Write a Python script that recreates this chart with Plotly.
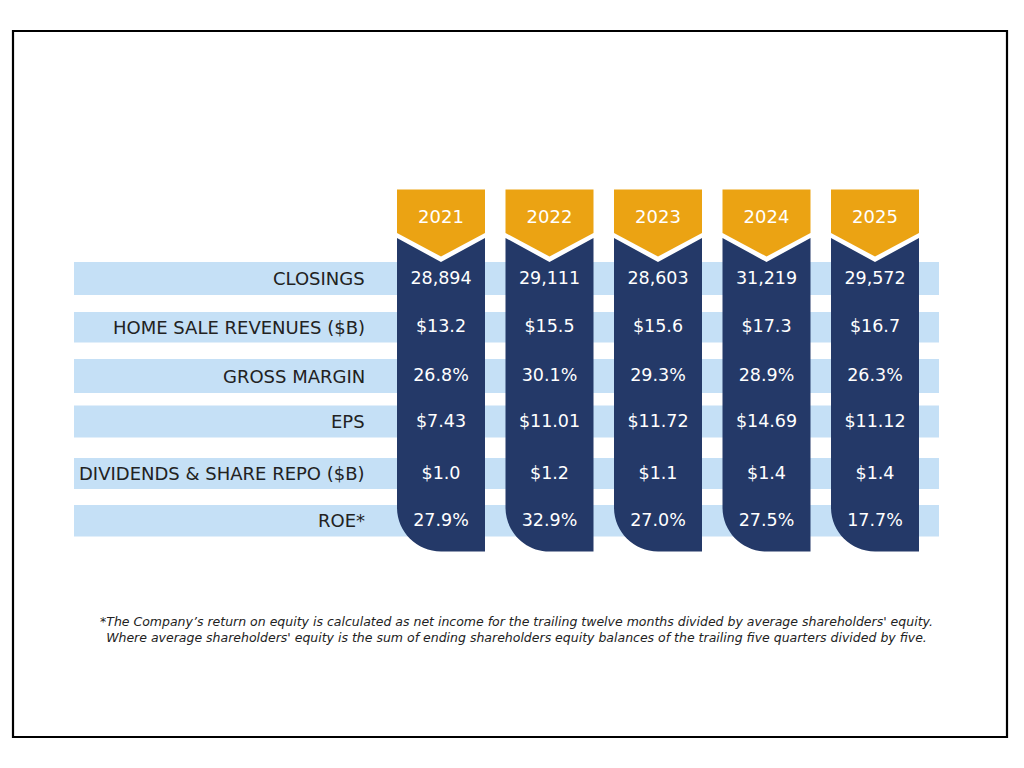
import plotly.graph_objects as go

# ---------------- data ----------------
years = ["2021", "2022", "2023", "2024", "2025"]
metrics = ["CLOSINGS", "HOME SALE REVENUES ($B)", "GROSS MARGIN", "EPS",
           "DIVIDENDS & SHARE REPO ($B)", "ROE*"]
closings = [28894, 29111, 28603, 31219, 29572]
home_sale_revenues = [13.2, 15.5, 15.6, 17.3, 16.7]
gross_margin = [26.8, 30.1, 29.3, 28.9, 26.3]
eps = [7.43, 11.01, 11.72, 14.69, 11.12]
dividends_repo = [1.0, 1.2, 1.1, 1.4, 1.4]
roe = [27.9, 32.9, 27.0, 27.5, 17.7]
footnote = ("*The Company’s return on equity is calculated as net income for the trailing twelve months "
            "divided by average shareholders' equity.<br>Where average shareholders' equity is the sum of "
            "ending shareholders equity balances of the trailing five quarters divided by five.")

# ---------------- styling / layout constants ----------------
NAVY = "#243968"
GOLD = "#EBA313"
BLUE = "#C5E0F6"
TXT = "#222222"
FONT = "DejaVu Sans"

col_x0, col_step, col_w = 397, 108.5, 88
band_x0, band_x1 = 74, 939
band_tops = [262, 312, 359, 405.5, 458, 505]
band_bots = [295, 342.5, 393, 437.5, 489, 536.5]
label_x = 367
gold_top, gold_side, gold_tip = 189.5, 233, 256.5
navy_side, navy_tip, navy_bot, corner_r = 238, 262, 551.5, 44

rows = [
    [f"{v:,}" for v in closings],
    [f"${v:.1f}" for v in home_sale_revenues],
    [f"{v:.1f}%" for v in gross_margin],
    [f"${v:.2f}" for v in eps],
    [f"${v:.1f}" for v in dividends_repo],
    [f"{v:.1f}%" for v in roe],
]

fig = go.Figure()
shapes = []

# outer frame
shapes.append(dict(type="rect", xref="x", yref="y", x0=13, x1=1007, y0=31, y1=737,
                   line=dict(color="black", width=2.2), fillcolor="rgba(0,0,0,0)", layer="above"))

# row bands
for t, b in zip(band_tops, band_bots):
    shapes.append(dict(type="rect", xref="x", yref="y", x0=band_x0, x1=band_x1, y0=t, y1=b,
                       line=dict(width=0), fillcolor=BLUE, layer="below"))

# columns
k = 0.5523 * corner_r
col_centers = []
for i, yr in enumerate(years):
    L = col_x0 + i * col_step
    R = L + col_w
    C = L + col_w / 2
    col_centers.append(C)
    gold = (f"M{L},{gold_top} L{R},{gold_top} L{R},{gold_side} L{C},{gold_tip} "
            f"L{L},{gold_side} Z")
    navy = (f"M{L},{navy_side} L{C},{navy_tip} L{R},{navy_side} L{R},{navy_bot} "
            f"L{L + corner_r},{navy_bot} "
            f"C{L + corner_r - k},{navy_bot} {L},{navy_bot - corner_r + k} {L},{navy_bot - corner_r} Z")
    shapes.append(dict(type="path", xref="x", yref="y", path=gold, fillcolor=GOLD,
                       line=dict(width=0), layer="below"))
    shapes.append(dict(type="path", xref="x", yref="y", path=navy, fillcolor=NAVY,
                       line=dict(width=0), layer="below"))

# year labels
fig.add_trace(go.Scatter(x=col_centers, y=[218] * len(years), text=years, mode="text",
                         textposition="middle center",
                         textfont=dict(family=FONT, size=18, color="white"),
                         hoverinfo="skip", showlegend=False))

# values
row_centers = [(t + b) / 2 for t, b in zip(band_tops, band_bots)]
for r, vals in enumerate(rows):
    fig.add_trace(go.Scatter(x=col_centers, y=[row_centers[r] + 0.8] * len(vals), text=vals,
                             mode="text", textposition="middle center",
                             textfont=dict(family=FONT, size=17.5, color="white"),
                             hoverinfo="skip", showlegend=False))

annotations = []
for r, m in enumerate(metrics):
    annotations.append(dict(x=label_x, y=row_centers[r], xref="x", yref="y", text=m,
                            showarrow=False, xanchor="right", yanchor="middle",
                            font=dict(family=FONT, size=18, color=TXT)))

annotations.append(dict(x=516, y=629, xref="x", yref="y", text=footnote, showarrow=False,
                        xanchor="center", yanchor="middle", align="center",
                        font=dict(family=FONT, size=12.5, color=TXT, style="italic")))

fig.update_layout(
    width=1024, height=768, autosize=False,
    margin=dict(l=0, r=0, t=0, b=0, pad=0),
    paper_bgcolor="white", plot_bgcolor="white",
    xaxis=dict(range=[0, 1024], visible=False, fixedrange=True),
    yaxis=dict(range=[768, 0], visible=False, fixedrange=True),
    shapes=shapes, annotations=annotations,
)

fig.write_html("out.html", config={"displayModeBar": False},
               post_script="document.body.style.margin='0';document.body.style.overflow='hidden';")
